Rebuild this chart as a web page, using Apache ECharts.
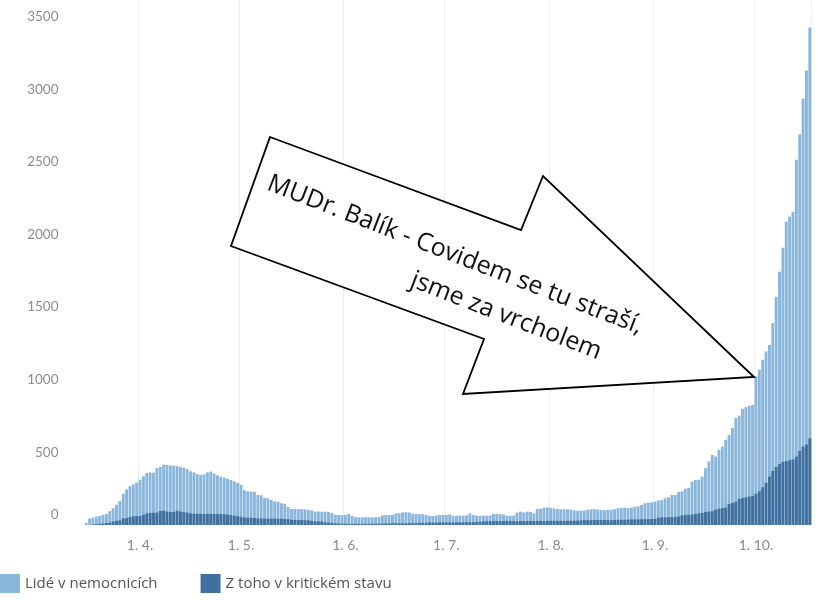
<!DOCTYPE html>
<html>
<head>
<meta charset="utf-8">
<script src="https://cdn.jsdelivr.net/npm/echarts@6/dist/echarts.min.js"></script>
<style>html,body{margin:0;padding:0;background:#fff}#c{width:830px;height:600px}</style>
</head>
<body>
<div id="c"></div>
<script>
// ---- data ----
const startDate = '2020-03-16';
const dayCount = 216; // 16. 3. – 17. 10. 2020

const seriesNames = ['Lidé v nemocnicích', 'Z toho v kritickém stavu'];

// Lidé v nemocnicích (daily)
const hospitalized = [
  // March 16–31
  15, 45, 50, 58, 62, 70, 76, 95, 115, 140, 165, 215, 245, 268, 280, 292,
  // April
  312, 335, 358, 362, 360, 392, 400, 415, 413, 410, 409, 405, 400, 395, 386,
  370, 362, 350, 344, 348, 362, 368, 355, 342, 333, 326, 318, 310, 300, 290,
  // May
  276, 240, 232, 230, 228, 207, 205, 186, 184, 172, 162, 160, 150, 145, 124, 110,
  111, 109, 110, 108, 103, 100, 92, 93, 91, 92, 90, 83, 70, 69, 68,
  // June
  70, 76, 62, 54, 53, 52, 54, 53, 52, 54, 55, 66, 69, 68, 70,
  80, 81, 87, 88, 86, 77, 76, 75, 74, 69, 62, 61, 65, 68, 69,
  // July
  70, 73, 64, 63, 65, 64, 66, 80, 70, 64, 63, 65, 64, 66, 76, 77,
  75, 72, 64, 63, 65, 85, 92, 86, 92, 90, 80, 110, 112, 119, 121,
  // August
  118, 114, 110, 108, 109, 107, 106, 100, 98, 99, 100, 106, 108, 109, 107, 103,
  102, 104, 103, 108, 115, 117, 118, 116, 120, 126, 128, 138, 150, 154, 156,
  // September
  160, 168, 172, 184, 190, 207, 207, 228, 232, 250, 256, 299, 310, 312, 333,
  391, 437, 483, 471, 517, 540, 586, 620, 667, 736, 752, 800, 811, 821, 826,
  // October 1–17
  1023, 1069, 1138, 1195, 1240, 1390, 1571, 1744, 1909, 2088, 2123, 2157,
  2515, 2688, 2936, 3129, 3425
];

// Z toho v kritickém stavu (daily)
const critical = [
  // March 16–31
  0, 0, 4, 6, 8, 10, 14, 16, 24, 28, 32, 45, 48, 55, 60, 62,
  // April
  62, 70, 80, 83, 84, 85, 96, 99, 92, 90, 90, 98, 92, 88, 86,
  80, 78, 77, 76, 76, 77, 76, 76, 75, 76, 74, 72, 68, 64, 60,
  // May
  57, 52, 50, 50, 48, 46, 45, 44, 44, 44, 44, 43, 43, 42, 40, 36,
  35, 34, 34, 33, 32, 28, 26, 25, 24, 18, 16, 15, 12, 10, 9,
  // June
  9, 8, 8, 8, 8, 8, 8, 8, 9, 9, 10, 10, 11, 11, 12,
  12, 12, 12, 12, 12, 12, 13, 16, 14, 15, 18, 17, 17, 18, 18,
  // July
  18, 18, 18, 18, 19, 18, 19, 19, 20, 21, 23, 25, 26, 26, 27, 27,
  27, 27, 28, 27, 27, 26, 27, 27, 28, 27, 27, 28, 28, 27, 28,
  // August
  28, 29, 28, 29, 28, 29, 29, 29, 30, 32, 33, 34, 34, 34, 35, 34,
  34, 35, 34, 35, 35, 36, 36, 37, 38, 38, 39, 39, 40, 40, 41,
  // September
  42, 50, 52, 53, 54, 55, 56, 58, 66, 68, 70, 72, 75, 80, 84,
  90, 92, 95, 105, 112, 116, 120, 145, 152, 160, 180, 186, 190, 195, 200,
  // October 1–17
  215, 232, 260, 290, 333, 372, 400, 420, 435, 440, 445, 452, 471, 510, 540, 555, 597
];

const monthTicks = ['2020-04-01', '2020-05-01', '2020-06-01', '2020-07-01', '2020-08-01', '2020-09-01', '2020-10-01'];
const monthTickLabels = ['1. 4.', '1. 5.', '1. 6.', '1. 7.', '1. 8.', '1. 9.', '1. 10.'];

const yTicks = [0, 500, 1000, 1500, 2000, 2500, 3000, 3500];

const annotationLines = ['MUDr. Balík - Covidem se tu straší,', 'jsme za vrcholem'];

// ---- build categories (dates) ----
const dates = [];
{
  const d0 = new Date(startDate + 'T00:00:00Z');
  for (let i = 0; i < dayCount; i++) {
    const d = new Date(d0.getTime() + i * 86400000);
    dates.push(d.toISOString().slice(0, 10));
  }
}

const chart = echarts.init(document.getElementById('c'), null, {renderer: 'canvas'});
const FONT = 'Lato';
const ROT = -0.37;

chart.setOption({
  animation: false,
  backgroundColor: '#ffffff',
  grid: {left: 84.5, right: 18.5, top: 0, bottom: 75},
  legend: {
    left: 0, top: 574, padding: 0,
    itemWidth: 20, itemHeight: 19, itemGap: 43,
    icon: 'rect',
    data: seriesNames,
    textStyle: {fontFamily: 'Open Sans', fontSize: 15, color: '#555555'}
  },
  xAxis: {
    type: 'category',
    data: dates,
    axisLine: {show: false},
    axisTick: {show: false},
    axisLabel: {
      interval: (idx, val) => monthTicks.indexOf(val) >= 0,
      formatter: (val) => {
        const k = monthTicks.indexOf(val);
        return k >= 0 ? monthTickLabels[k] : '';
      },
      fontFamily: FONT, fontSize: 14, color: '#8c8c8c', margin: 13
    },
    splitLine: {
      show: true,
      interval: (idx, val) => monthTicks.indexOf(val) >= 0,
      lineStyle: {color: '#eeeeee', width: 1}
    }
  },
  yAxis: {
    type: 'value',
    min: 0, max: 3614, interval: 500,
    axisLine: {show: false},
    axisTick: {show: false},
    splitLine: {show: false},
    axisLabel: {
      margin: 26,
      fontFamily: FONT, fontSize: 13.5, color: '#8c8c8c',
      formatter: (v) => {
        if (yTicks.indexOf(v) < 0) return '';
        return v === 0 ? '{z|0}' : String(v);
      },
      rich: {z: {fontFamily: FONT, fontSize: 13.5, color: '#8c8c8c', padding: [0, 0, 20, 0]}}
    }
  },
  series: [
    {
      name: seriesNames[0], type: 'bar', data: hospitalized,
      itemStyle: {color: '#8ab6dc'},
      barCategoryGap: '14%', barGap: '-100%', z: 2
    },
    {
      name: seriesNames[1], type: 'bar', data: critical,
      itemStyle: {color: '#41709f'},
      barCategoryGap: '14%', barGap: '-100%', z: 3
    }
  ],
  graphic: [
    {
      type: 'polygon', z: 100,
      shape: {points: [[270, 137], [521, 230], [543, 176], [754, 377], [463, 394], [484, 339], [231, 246]]},
      style: {fill: '#ffffff', stroke: '#000000', lineWidth: 1.8, lineJoin: 'miter'}
    },
    {
      type: 'text', z: 101,
      x: 455, y: 255, rotation: ROT,
      style: {
        text: annotationLines[0],
        fontFamily: 'Open Sans', fontSize: 25,
        fill: '#111111', align: 'center', verticalAlign: 'middle'
      }
    },
    {
      type: 'text', z: 101,
      x: 506, y: 316, rotation: ROT,
      style: {
        text: annotationLines[1],
        fontFamily: 'Open Sans', fontSize: 25,
        fill: '#111111', align: 'center', verticalAlign: 'middle'
      }
    }
  ]
});
</script>
</body>
</html>
